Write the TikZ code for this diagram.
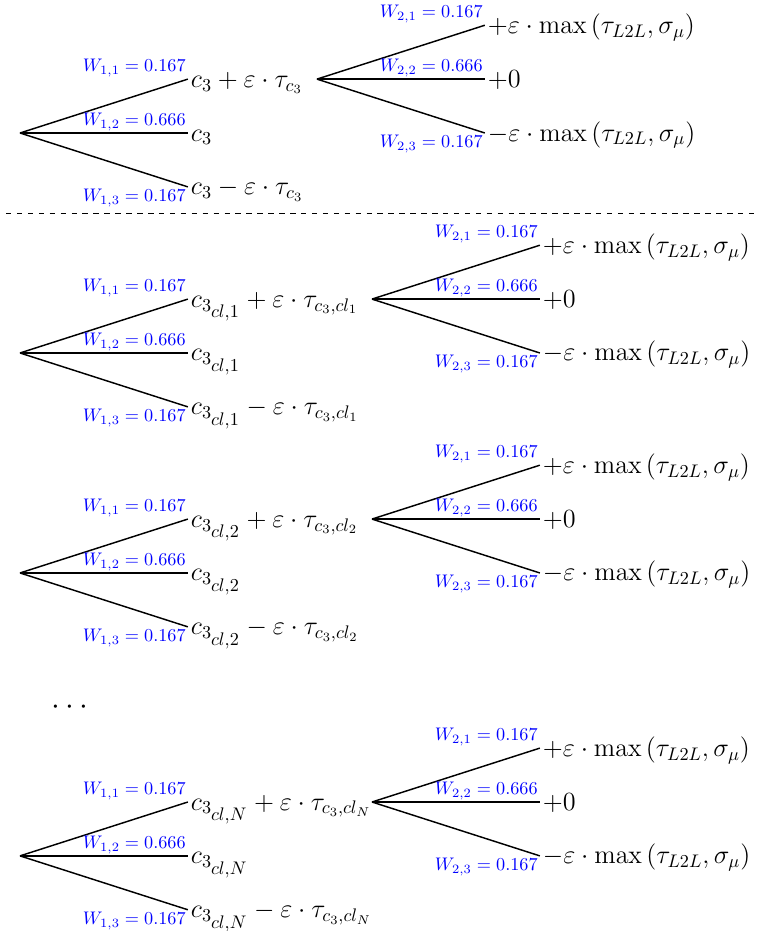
\documentclass[tikz,border=0pt]{standalone}
\usepackage{amsmath}
\usepackage{xcolor}
\usetikzlibrary{calc}

\begin{document}
\begin{tikzpicture}[
    br/.style={thick},
    lf/.style={anchor=base west, yshift=-4.4pt, inner sep=1.5pt, font=\fontsize{14.7}{17}\selectfont},
    wt/.style={text=blue, inner sep=0.8pt},
    sep/.style={dashed, thin}
]
\useasboundingbox (0,0) rectangle (14.65,-17.97);

% first level: c_3 alone
\coordinate (r0) at (0.386,-2.567);
\coordinate (r0u) at ($(r0)+(3.24,1.04)$);
\coordinate (r0m) at ($(r0)+(3.24,0)$);
\coordinate (r0d) at ($(r0)+(3.24,-1.04)$);
\node[lf] (a0) at (r0u) {$c_3 + \varepsilon \cdot \tau_{c_3}$};
\node[lf] (b0) at (r0m) {$c_3$};
\node[lf] (c0) at (r0d) {$c_3 - \varepsilon \cdot \tau_{c_3}$};
\draw[br] (r0) -- node[wt,pos=1,anchor=south east]{$W_{1,1} = 0.167$} (r0u);
\draw[br] (r0) -- node[wt,pos=1,anchor=south east]{$W_{1,2} = 0.666$} (r0m);
\draw[br] (r0) -- node[wt,pos=1,anchor=north east]{$W_{1,3} = 0.167$} (r0d);
% second level
\coordinate (s0) at (6.118,-1.527);
\coordinate (s0u) at ($(s0)+(3.24,1.04)$);
\coordinate (s0m) at ($(s0)+(3.24,0)$);
\coordinate (s0d) at ($(s0)+(3.24,-1.04)$);
\node[lf] (p0) at (s0u) {$+\varepsilon \cdot \max\left(\tau_{L2L}, \sigma_\mu\right)$};
\node[lf] (z0) at (s0m) {$+0$};
\node[lf] (m0) at (s0d) {$-\varepsilon \cdot \max\left(\tau_{L2L}, \sigma_\mu\right)$};
\draw[br] (s0) -- node[wt,pos=1,anchor=south east]{$W_{2,1} = 0.167$} (s0u);
\draw[br] (s0) -- node[wt,pos=1,anchor=south east]{$W_{2,2} = 0.666$} (s0m);
\draw[br] (s0) -- node[wt,pos=1,anchor=north east]{$W_{2,3} = 0.167$} (s0d);

\coordinate (l) at (0.116,-4.111);
\coordinate (r) at (14.65,-4.111);
\draw[sep] (l) -- (r);

% one tree per cluster
\foreach \k/\y in {1/-6.813, 2/-11.059, N/-16.52} {
  \coordinate (r\k) at (0.386,\y);
  \coordinate (r\k u) at ($(r\k)+(3.24,1.04)$);
  \coordinate (r\k m) at ($(r\k)+(3.24,0)$);
  \coordinate (r\k d) at ($(r\k)+(3.24,-1.04)$);
  \node[lf] (a\k) at (r\k u) {$c_{3_{\scriptstyle cl,\k}} + \varepsilon \cdot \tau_{c_3,cl_\k}$};
  \node[lf] (b\k) at (r\k m) {$c_{3_{\scriptstyle cl,\k}}$};
  \node[lf] (c\k) at (r\k d) {$c_{3_{\scriptstyle cl,\k}} - \varepsilon \cdot \tau_{c_3,cl_\k}$};
  \draw[br] (r\k) -- node[wt,pos=1,anchor=south east]{$W_{1,1} = 0.167$} (r\k u);
  \draw[br] (r\k) -- node[wt,pos=1,anchor=south east]{$W_{1,2} = 0.666$} (r\k m);
  \draw[br] (r\k) -- node[wt,pos=1,anchor=north east]{$W_{1,3} = 0.167$} (r\k d);
  \coordinate (s\k) at (7.18,\y+1.04);
  \coordinate (s\k u) at ($(s\k)+(3.24,1.04)$);
  \coordinate (s\k m) at ($(s\k)+(3.24,0)$);
  \coordinate (s\k d) at ($(s\k)+(3.24,-1.04)$);
  \node[lf] (p\k) at (s\k u) {$+\varepsilon \cdot \max\left(\tau_{L2L}, \sigma_\mu\right)$};
  \node[lf] (z\k) at (s\k m) {$+0$};
  \node[lf] (m\k) at (s\k d) {$-\varepsilon \cdot \max\left(\tau_{L2L}, \sigma_\mu\right)$};
  \draw[br] (s\k) -- node[wt,pos=1,anchor=south east]{$W_{2,1} = 0.167$} (s\k u);
  \draw[br] (s\k) -- node[wt,pos=1,anchor=south east]{$W_{2,2} = 0.666$} (s\k m);
  \draw[br] (s\k) -- node[wt,pos=1,anchor=north east]{$W_{2,3} = 0.167$} (s\k d);
}

\node[font=\LARGE] (dots) at (1.40,-13.65) {$\cdots$};
\end{tikzpicture}
\end{document}
